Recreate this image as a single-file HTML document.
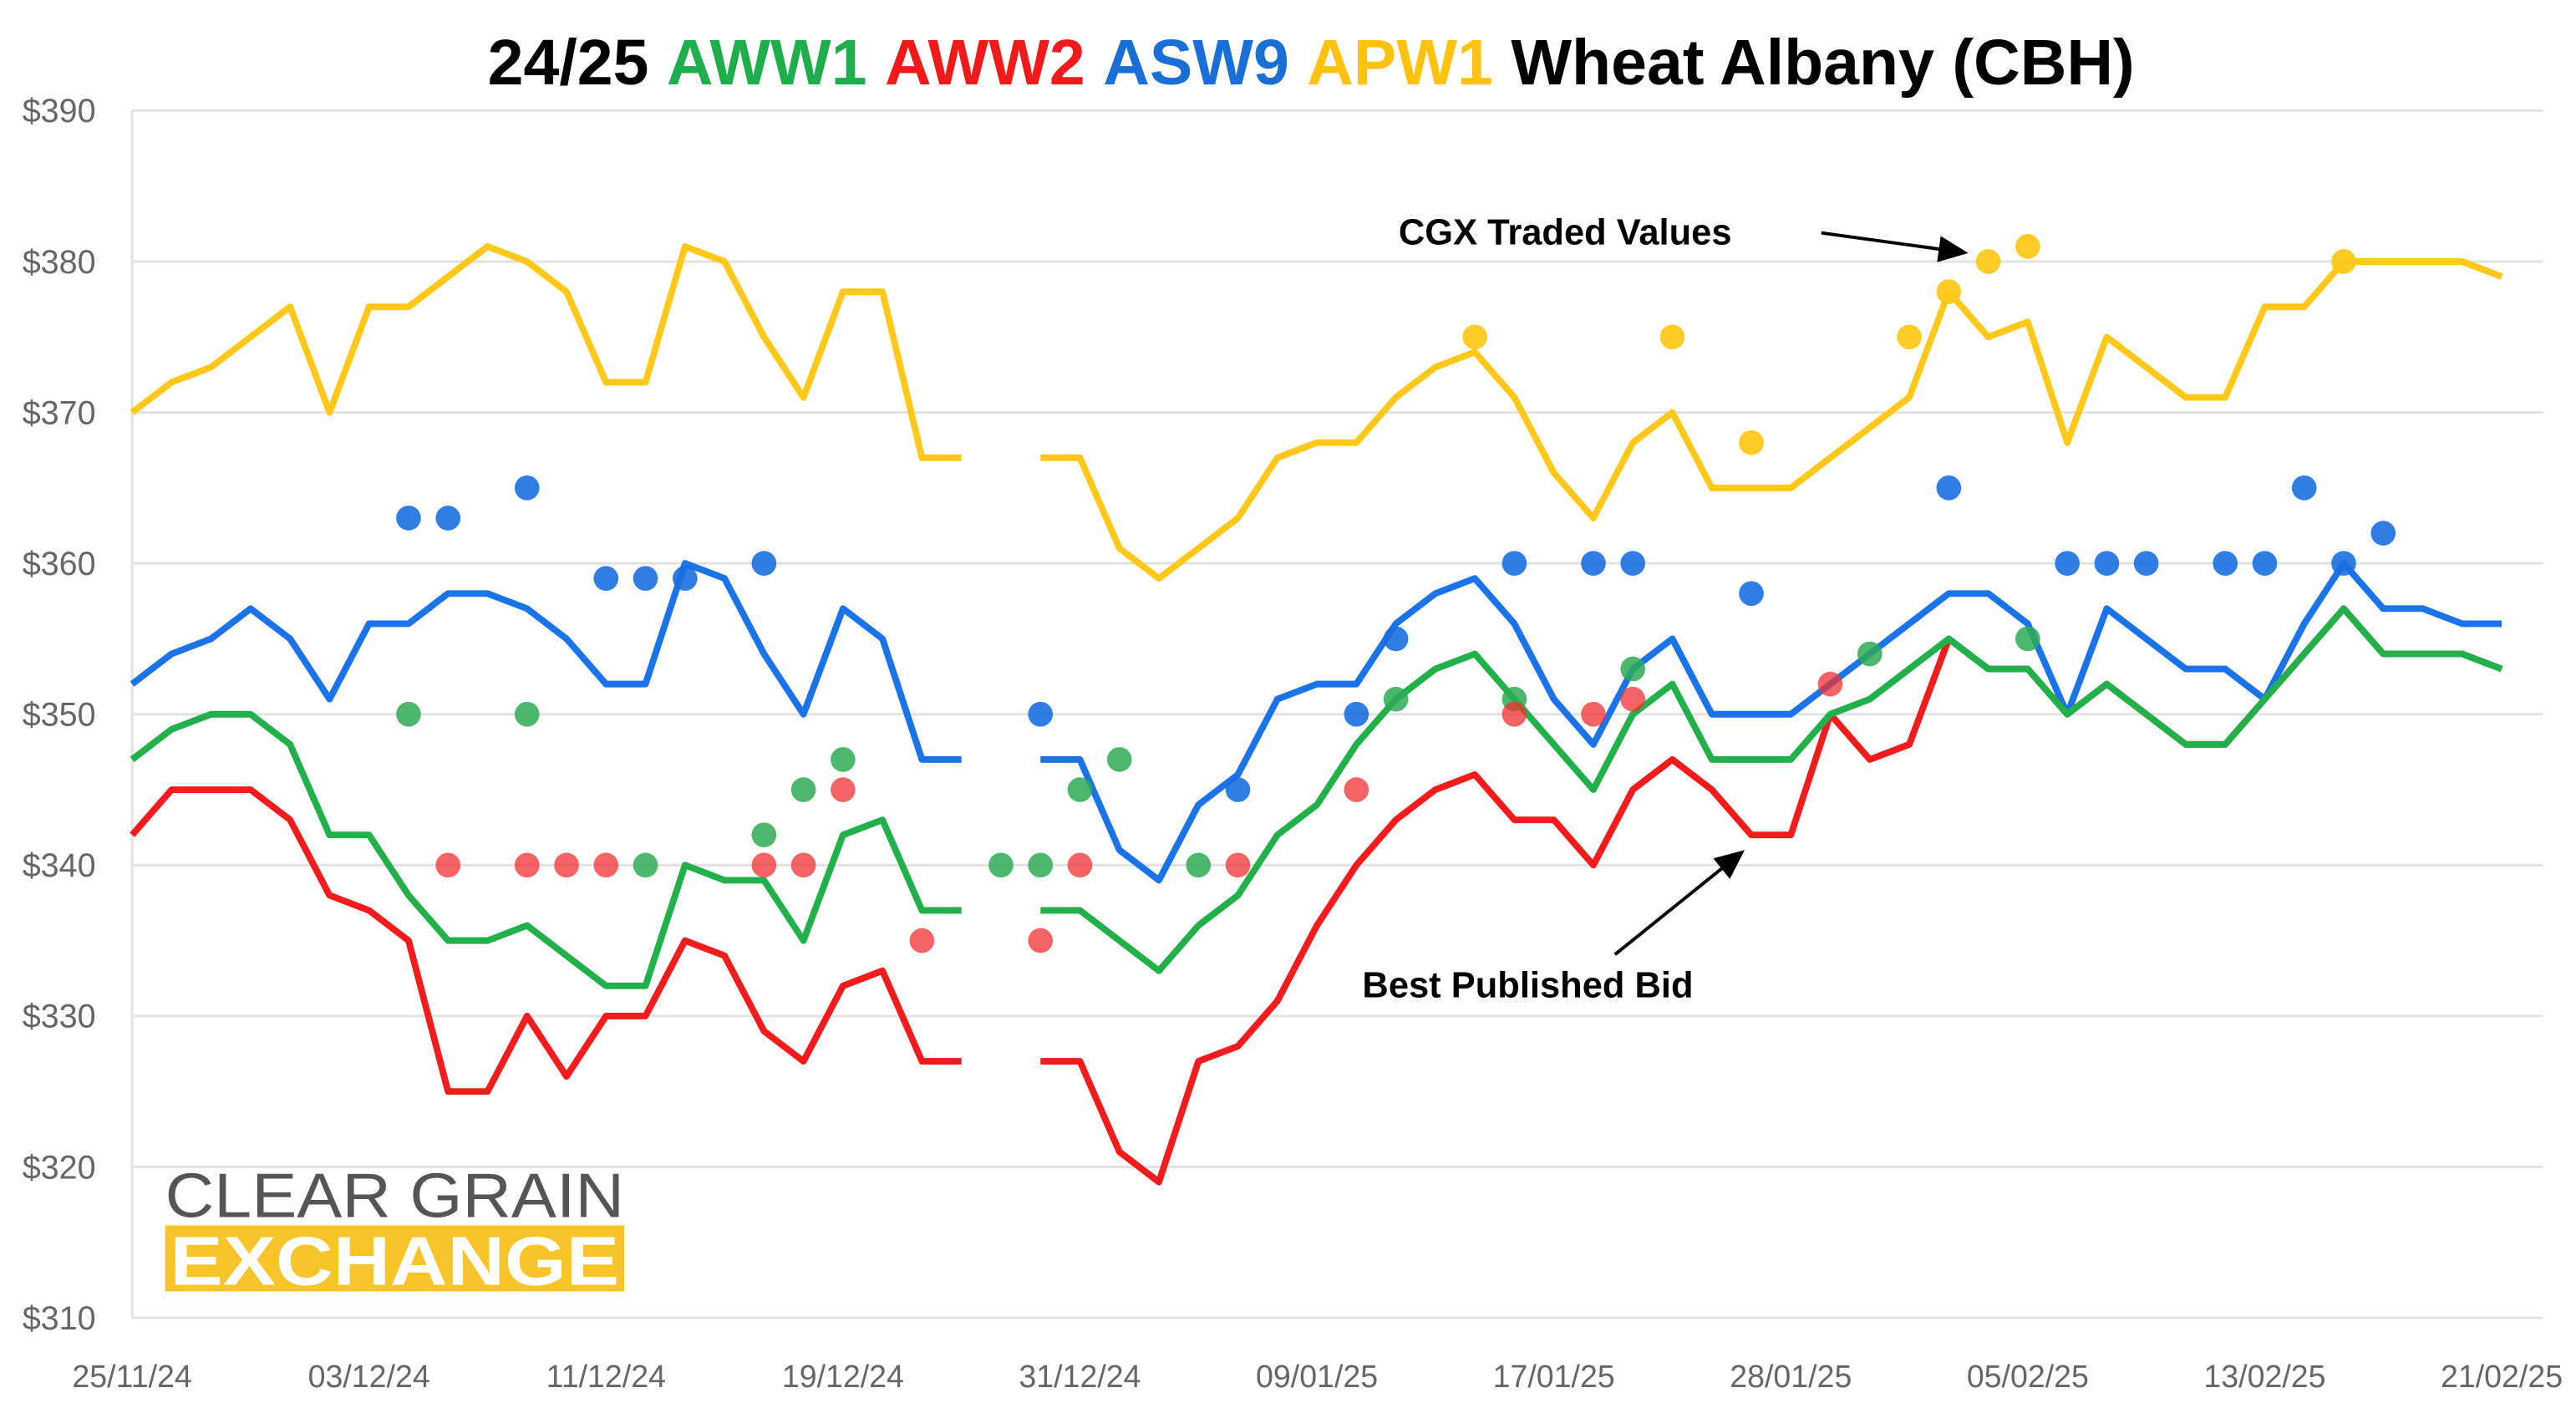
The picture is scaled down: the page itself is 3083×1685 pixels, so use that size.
<!DOCTYPE html>
<html><head><meta charset="utf-8"><style>
html,body{margin:0;padding:0;background:#fff;}
svg{display:block;}
text{font-family:"Liberation Sans",sans-serif;}
</style></head><body>
<svg id="chart" width="3083" height="1685" viewBox="0 0 1560 852.6" preserveAspectRatio="none" xmlns="http://www.w3.org/2000/svg">
<text x="794" y="51" text-anchor="middle" font-size="39" font-weight="bold"><tspan fill="#000">24/25 </tspan><tspan fill="#1fae4b">AWW1 </tspan><tspan fill="#f01a1a">AWW2 </tspan><tspan fill="#1a6fd6">ASW9 </tspan><tspan fill="#ffc20e">APW1 </tspan><tspan fill="#000">Wheat Albany (CBH)</tspan></text>
<g id="grid"></g><g id="lines"></g><g id="dots"></g><g id="axes"></g>
<g>
<text x="100" y="737" font-size="38" fill="#555" textLength="278" lengthAdjust="spacingAndGlyphs">CLEAR GRAIN</text>
<rect x="100" y="742" width="278" height="40" fill="#f7c52a"/>
<text x="103" y="778" font-size="42" font-weight="bold" fill="#fff" textLength="272" lengthAdjust="spacingAndGlyphs">EXCHANGE</text>
</g>
<defs><marker id="ah" markerWidth="10" markerHeight="10" refX="8" refY="5" orient="auto"><path d="M0,1 L9,5 L0,9 z" fill="#000"/></marker></defs>
<text x="847" y="148" font-size="22" font-weight="bold">CGX Traded Values</text>
<line x1="1103" y1="141" x2="1190" y2="153" stroke="#000" stroke-width="2" marker-end="url(#ah)"/>
<text x="825" y="604" font-size="22" font-weight="bold">Best Published Bid</text>
<line x1="978" y1="578" x2="1055" y2="516" stroke="#000" stroke-width="2" marker-end="url(#ah)"/>
</svg>
<script>
const xLabels=["25/11/24","03/12/24","11/12/24","19/12/24","31/12/24","09/01/25","17/01/25","28/01/25","05/02/25","13/02/25","21/02/25"];
const yTicks=[310,320,330,340,350,360,370,380,390];
const n=null;
const apw1=[370,372,373,375,377,370,377,377,379,381,380,378,372,372,381,380,375,371,378,378,367,367,n,367,367,361,359,361,363,367,368,368,371,373,374,371,366,363,368,370,365,365,365,367,369,371,378,375,376,368,375,373,371,371,377,377,380,380,380,380,379];
const asw9=[352,354,355,357,355,351,356,356,358,358,357,355,352,352,360,359,354,350,357,355,347,347,n,347,347,341,339,344,346,351,352,352,356,358,359,356,351,348,353,355,350,350,350,352,354,356,358,358,356,350,357,355,353,353,351,356,360,357,357,356,356];
const aww2=[342,345,345,345,343,338,337,335,325,325,330,326,330,330,335,334,329,327,332,333,327,327,n,327,327,321,319,327,328,331,336,340,343,345,346,343,343,340,345,347,345,342,342,350,347,348,355,353,353,350,352,350,348,348,351,354,357,354,354,354,353];
const aww1=[347,349,350,350,348,342,342,338,335,335,336,334,332,332,340,339,339,335,342,343,337,337,n,337,337,335,333,336,338,342,344,348,351,353,354,351,348,345,350,352,347,347,347,350,351,353,355,353,353,350,352,350,348,348,351,354,357,354,354,354,353];
const apw1Dots=[[34,375],[39,375],[41,368],[45,375],[46,378],[47,380],[48,381],[56,380]];
const asw9Dots=[[7,363],[8,363],[10,365],[12,359],[13,359],[14,359],[16,360],[23,350],[28,345],[31,350],[32,355],[35,360],[37,360],[38,360],[41,358],[46,365],[49,360],[50,360],[51,360],[53,360],[54,360],[55,365],[56,360],[57,362]];
const aww1Dots=[[7,350],[10,350],[13,340],[16,342],[17,345],[18,347],[22,340],[23,340],[24,345],[25,347],[27,340],[32,351],[35,351],[38,353],[44,354],[48,355]];
const aww2Dots=[[8,340],[10,340],[11,340],[12,340],[16,340],[17,340],[18,345],[20,335],[23,335],[24,340],[28,340],[31,345],[35,350],[37,350],[38,351],[43,352]];
const NS="http://www.w3.org/2000/svg";
const X0=80,X1=1515,NPTS=61;
function xs(i){return X0+(X1-X0)*i/(NPTS-1);}
function ys(v){return 798-(v-310)*(798-67)/80;}
function mk(t,a,p){const e=document.createElementNS(NS,t);for(const k in a)e.setAttribute(k,a[k]);p.appendChild(e);return e;}
const grid=document.getElementById('grid'),axes=document.getElementById('axes');
yTicks.forEach(v=>{
 const l=mk('line',{x1:X0,x2:1540,y1:ys(v),y2:ys(v),stroke:'#e2e2e2','stroke-width':1.5},grid);
 
 
 const t=mk('text',{x:58,y:ys(v)+7,'text-anchor':'end','font-size':20,fill:'#666'},axes);
 t.textContent='$'+v;
 
 
});
const ax=mk('line',{x1:X0,x2:X0,y1:67,y2:798,stroke:'#e2e2e2','stroke-width':1.5},grid);


xLabels.forEach((s,k)=>{
 const t=mk('text',{x:xs(k*6),y:840,'text-anchor':'middle','font-size':19,fill:'#666'},axes);
 t.textContent=s;
 
 
});
const lines=document.getElementById('lines');
function drawLine(arr,col,name){
 let d='',pen=false;
 arr.forEach((v,i)=>{if(v===null){pen=false;return;}d+=(pen?'L':'M')+xs(i)+','+ys(v);pen=true;});
 const p=mk('path',{d:d,fill:'none',stroke:col,'stroke-width':4,'stroke-linejoin':'round','stroke-linecap':'butt'},lines);
 
 
}
drawLine(apw1,'#ffc81a','apw1-bid-line');
drawLine(asw9,'#1a73e8','asw9-bid-line');
drawLine(aww2,'#f21c1c','aww2-bid-line');
drawLine(aww1,'#22b04b','aww1-bid-line');
const dots=document.getElementById('dots');
function drawDots(arr,col,op,name){
 arr.forEach(([i,v])=>{
  const c=mk('circle',{cx:xs(i),cy:ys(v),r:7.5,fill:col,'fill-opacity':op},dots);
  
  
 });
}
drawDots(apw1Dots,'#ffc81a',0.95,'apw1-traded-dot');
drawDots(asw9Dots,'#1a6fe0',0.9,'asw9-traded-dot');
drawDots(aww1Dots,'#2eaa55',0.85,'aww1-traded-dot');
drawDots(aww2Dots,'#f03030',0.75,'aww2-traded-dot');
</script>
</body></html>
